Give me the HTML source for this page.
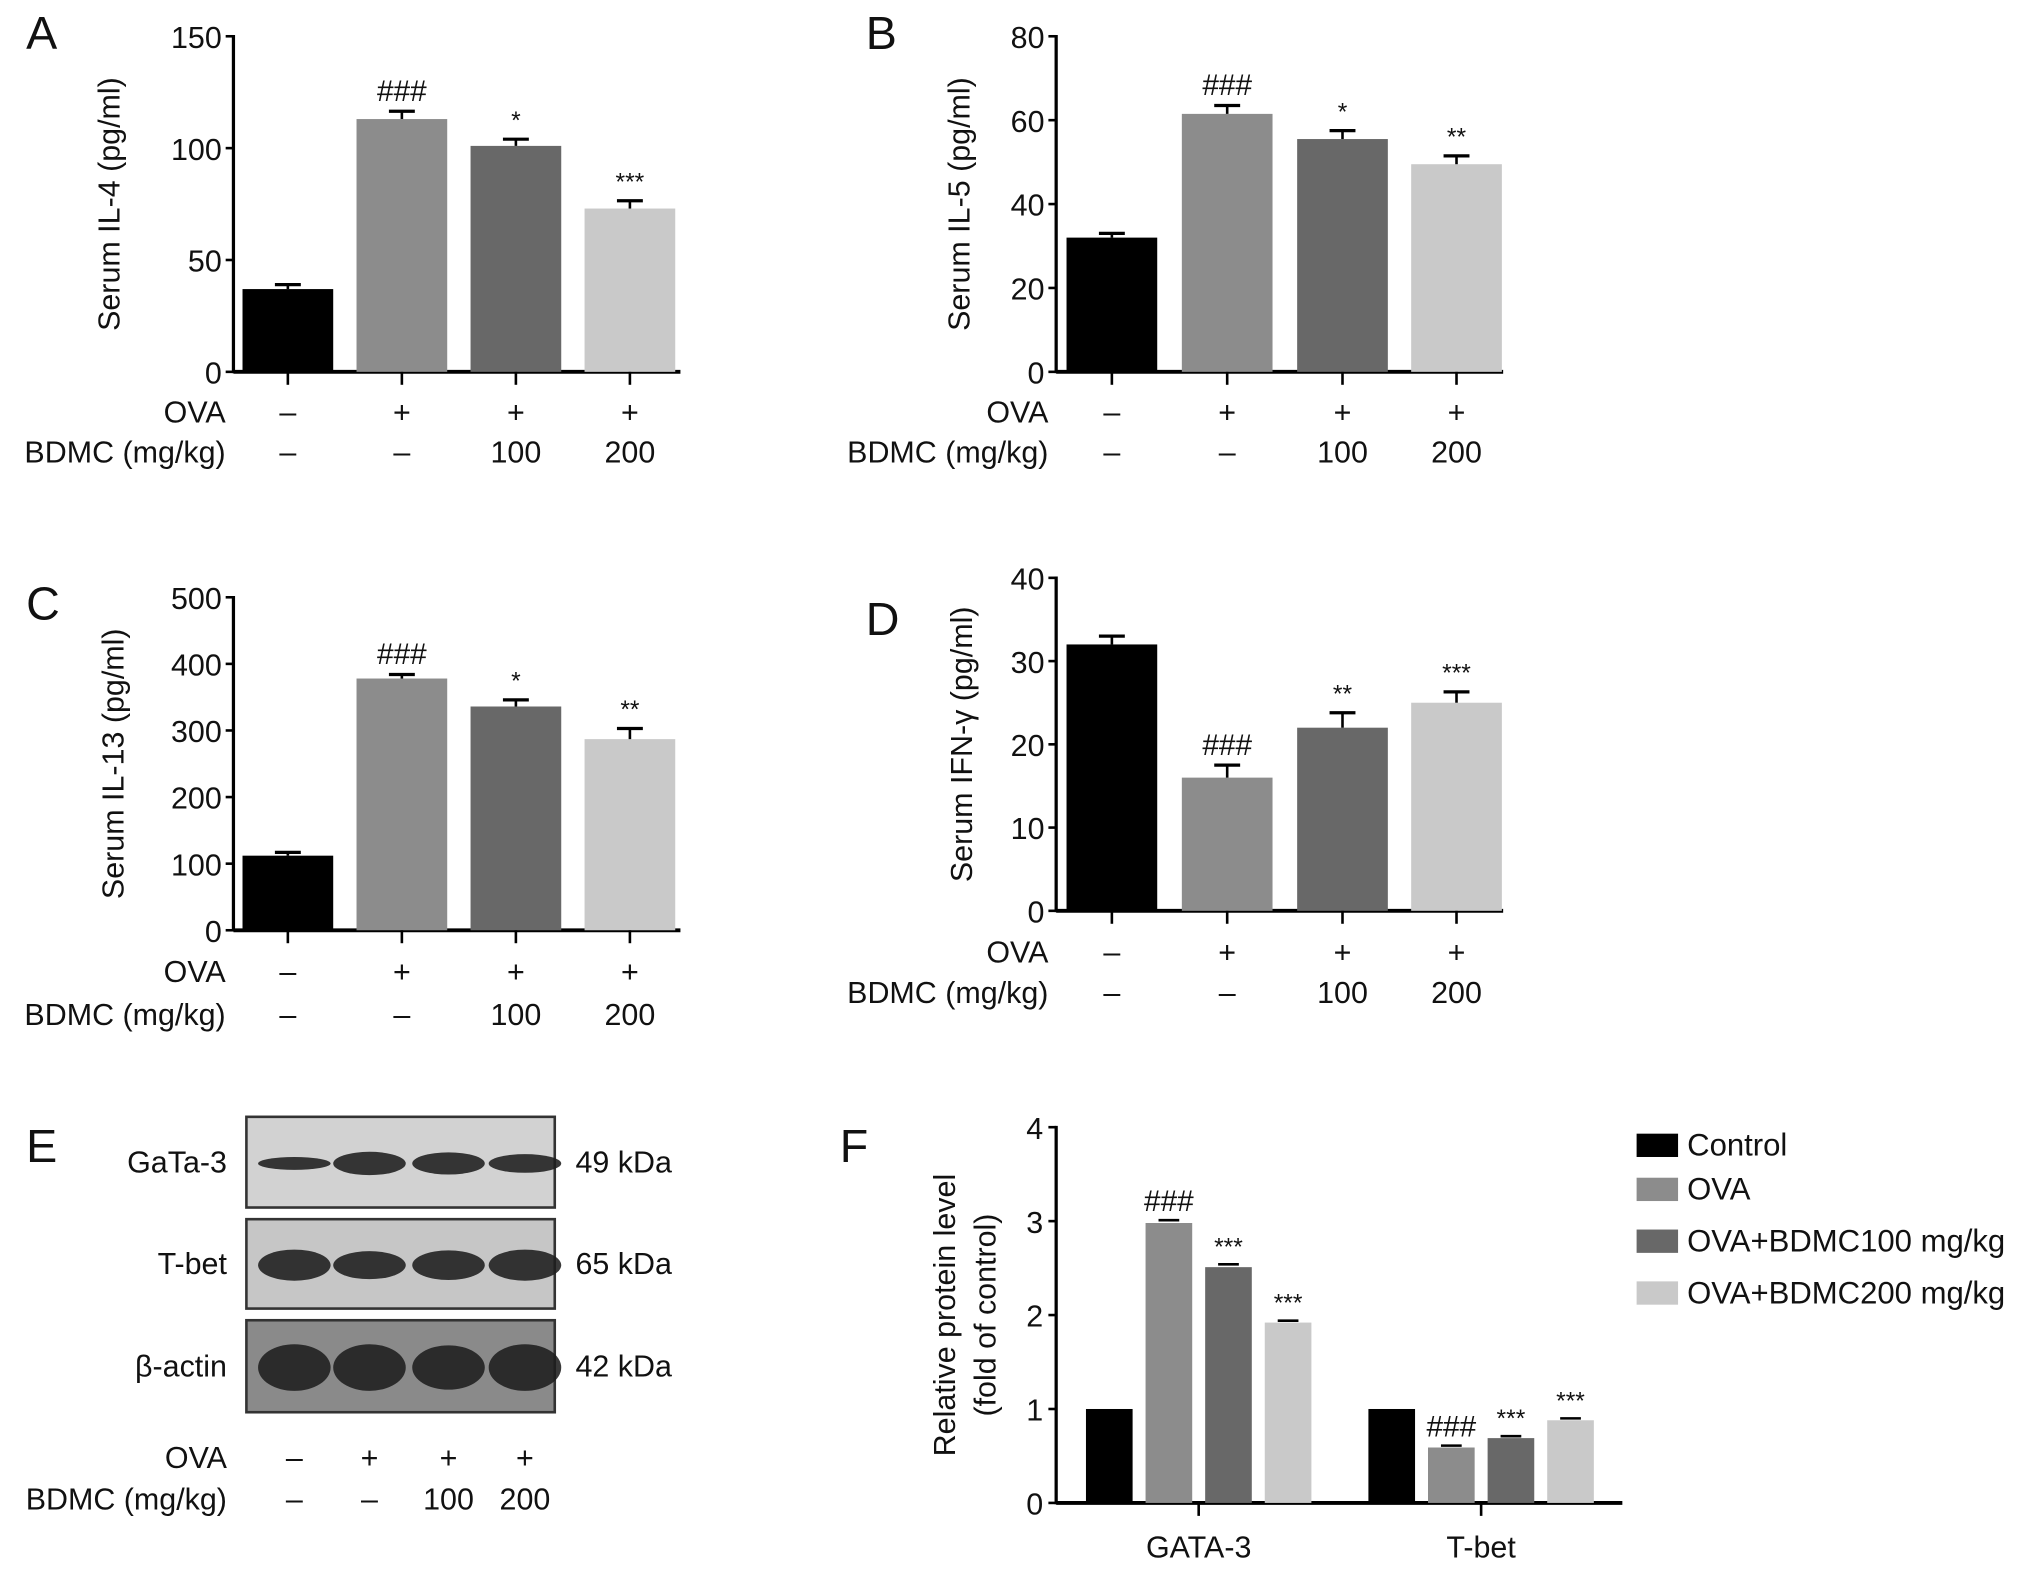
<!DOCTYPE html>
<html><head><meta charset="utf-8">
<style>
html,body{margin:0;padding:0;background:#fff;}
svg{display:block;font-family:"Liberation Sans",Arial,sans-serif;}
</style></head>
<body>
<svg id="fig" width="2032" height="1569" viewBox="0 0 1568 1211" xmlns="http://www.w3.org/2000/svg"></svg>
<script>
// ---- data ----
const groupsRow1 = ["-","+","+","+"];
const groupsRow2 = ["-","-","100","200"];
const colors = ["#000000","#8c8c8c","#686868","#c9c9c9"];

const aValues = [37, 113, 101, 73];
const aErrors = [2, 3.5, 3, 3.5];
const aMarks  = ["", "###", "*", "***"];
const aTicks  = [0, 50, 100, 150];

const bValues = [32, 61.5, 55.5, 49.5];
const bErrors = [1, 2, 2, 2];
const bMarks  = ["", "###", "*", "**"];
const bTicks  = [0, 20, 40, 60, 80];

const cValues = [112, 378, 336, 287];
const cErrors = [5, 6, 10, 16];
const cMarks  = ["", "###", "*", "**"];
const cTicks  = [0, 100, 200, 300, 400, 500];

const dValues = [32, 16, 22, 25];
const dErrors = [1, 1.5, 1.8, 1.3];
const dMarks  = ["", "###", "**", "***"];
const dTicks  = [0, 10, 20, 30, 40];

const fCategories = ["GATA-3", "T-bet"];
const fSeries = ["Control", "OVA", "OVA+BDMC100 mg/kg", "OVA+BDMC200 mg/kg"];
const fGata = [1, 2.98, 2.51, 1.92];
const fTbet = [1, 0.59, 0.69, 0.88];
const fGataErr = [0, 0.03, 0.03, 0.02];
const fTbetErr = [0, 0.02, 0.02, 0.02];
const fGataMarks = ["", "###", "***", "***"];
const fTbetMarks = ["", "###", "***", "***"];
const fTicks = [0, 1, 2, 3, 4];

const NS = "http://www.w3.org/2000/svg";
const svg = document.getElementById("fig");
const FS = 23.5;
function el(tag, attrs, parent) {
  const e = document.createElementNS(NS, tag);
  for (const k in attrs) e.setAttribute(k, attrs[k]);
  (parent || svg).appendChild(e);
  return e;
}
function txt(s, x, y, size, anchor, parent, extra) {
  const t = el("text", Object.assign({x:x, y:y, "font-size":size, "text-anchor":anchor||"middle", fill:"#111"}, extra||{}), parent);
  t.textContent = s;
  return t;
}

function barPanel(o) {
  const g = el("g", {});
  
  
  const yScale = v => o.y0 - (v - o.ticks[0]) / (o.ticks[o.ticks.length-1] - o.ticks[0]) * (o.y0 - o.y1);
  const pl = txt(o.letter, o.lx, o.ly, 36, "start", g);
  
  
  el("line", {x1:o.ax, y1:o.y1-1, x2:o.ax, y2:o.y0+1, stroke:"#000", "stroke-width":2.5}, g);
  el("line", {x1:o.ax, y1:o.y0, x2:o.xend, y2:o.y0, stroke:"#000", "stroke-width":3}, g);
  o.ticks.forEach(t => {
    const y = yScale(t);
    el("line", {x1:o.ax-6, y1:y, x2:o.ax, y2:y, stroke:"#000", "stroke-width":2}, g);
    const tl = txt(String(t), o.ax-9, y+9, FS, "end", g);
    
    
  });
  const yt = txt(o.ytitle, 0, 0, FS, "middle", g, {transform:`translate(${o.tx},${(o.y0+o.y1)/2}) rotate(-90)`});
  
  
  o.values.forEach((v, i) => {
    const cx = o.xs[i];
    const top = yScale(v);
    const b = el("rect", {x:cx-o.bw/2, y:top, width:o.bw, height:o.y0-top, fill:colors[i]}, g);
    
    
    const et = yScale(v + o.errors[i]);
    el("line", {x1:cx, y1:top, x2:cx, y2:et, stroke:"#000", "stroke-width":2}, g);
    el("line", {x1:cx-10, y1:et, x2:cx+10, y2:et, stroke:"#000", "stroke-width":2.5}, g);
    el("line", {x1:cx, y1:o.y0, x2:cx, y2:o.y0+10, stroke:"#000", "stroke-width":2}, g);
    if (o.marks[i]) {
      const m = txt(o.marks[i], cx, et - 8, o.marks[i][0]=="#" ? 23 : 19, "middle", g);
      
      
    }
    const r1 = txt(groupsRow1[i]=="-" ? "–" : "+", cx, o.r1y, FS, "middle", g);
    
    
    const r2 = txt(groupsRow2[i]=="-" ? "–" : groupsRow2[i], cx, o.r2y, FS, "middle", g);
    
    
  });
  const l1 = txt("OVA", o.ax-6, o.r1y, FS, "end", g);
  
  
  const l2 = txt("BDMC (mg/kg)", o.ax-6, o.r2y, FS, "end", g);
  
  
}

const xsL = [222, 310, 398, 486], xsR = [858, 947, 1036, 1124];
barPanel({name:"panel-a", letter:"A", lx:20, ly:38, ax:180, y0:287, y1:28, xend:525, ticks:aTicks, values:aValues, errors:aErrors, marks:aMarks, xs:xsL, bw:70, ytitle:"Serum IL-4 (pg/ml)", tx:92, r1y:326, r2y:357});
barPanel({name:"panel-b", letter:"B", lx:668, ly:38, ax:815, y0:287, y1:28, xend:1160, ticks:bTicks, values:bValues, errors:bErrors, marks:bMarks, xs:xsR, bw:70, ytitle:"Serum IL-5 (pg/ml)", tx:748, r1y:326, r2y:357});
barPanel({name:"panel-c", letter:"C", lx:20, ly:478, ax:180, y0:718, y1:461, xend:525, ticks:cTicks, values:cValues, errors:cErrors, marks:cMarks, xs:xsL, bw:70, ytitle:"Serum IL-13 (pg/ml)", tx:95, r1y:758, r2y:791});
barPanel({name:"panel-d", letter:"D", lx:668, ly:490, ax:815, y0:703, y1:446, xend:1160, ticks:dTicks, values:dValues, errors:dErrors, marks:dMarks, xs:xsR, bw:70, ytitle:"Serum IFN-γ (pg/ml)", tx:750, r1y:743, r2y:774});

// ---- panel E (western blot) ----
(function(){
  const g = el("g", {});
  
  
  const pl = txt("E", 20, 897, 36, "start", g);
  
  
  const rows = [["GaTa-3","49 kDa",862,932,[0.55,1.0,0.95,0.8],"#d2d2d2",9],["T-bet","65 kDa",941,1010,[1,0.9,0.95,1],"#c6c6c6",12],["β-actin","42 kDa",1019,1090,[1,1,0.95,1],"#8a8a8a",18]];
  const lanes = [227, 285, 346, 405];
  rows.forEach(r => {
    const box = el("rect", {x:190, y:r[2], width:238, height:r[3]-r[2], fill:r[5], stroke:"#333", "stroke-width":2}, g);
    
    
    const cy = (r[2]+r[3])/2;
    lanes.forEach((x,i) => {
      el("ellipse", {cx:x, cy:cy+1, rx:28, ry:r[6]*r[4][i], fill:"#1e1e1e", opacity:0.88}, g);
    });
    const l = txt(r[0], 175, cy+8, FS, "end", g);
    
    
    const k = txt(r[1], 444, cy+8, FS, "start", g);
    
    
  });
  lanes.forEach((x,i) => {
    txt(groupsRow1[i]=="-" ? "–" : "+", x, 1133, FS, "middle", g);
    txt(groupsRow2[i]=="-" ? "–" : groupsRow2[i], x, 1165, FS, "middle", g);
  });
  txt("OVA", 175, 1133, FS, "end", g);
  txt("BDMC (mg/kg)", 175, 1165, FS, "end", g);
})();

// ---- panel F ----
(function(){
  const g = el("g", {});
  
  
  const ax = 815, y0 = 1160, y1 = 870;
  const yScale = v => y0 - (v - fTicks[0]) / (fTicks[fTicks.length-1] - fTicks[0]) * (y0 - y1);
  const pl = txt("F", 648, 897, 36, "start", g);
  
  
  el("line", {x1:ax, y1:y1-1, x2:ax, y2:y0+1, stroke:"#000", "stroke-width":2.5}, g);
  el("line", {x1:ax, y1:y0, x2:1252, y2:y0, stroke:"#000", "stroke-width":3}, g);
  fTicks.forEach(t => {
    const y = yScale(t);
    el("line", {x1:ax-6, y1:y, x2:ax, y2:y, stroke:"#000", "stroke-width":2}, g);
    txt(String(t), ax-10, y+9, FS, "end", g);
  });
  const t1 = txt("Relative protein level", 0, 0, FS, "middle", g, {transform:`translate(737,1015) rotate(-90)`});
  
  
  txt("(fold of control)", 0, 0, FS, "middle", g, {transform:`translate(768,1015) rotate(-90)`});
  const groupCenters = [925, 1143];
  const offs = [-69, -23, 23, 69];
  const data = [fGata, fTbet], errs = [fGataErr, fTbetErr], marks = [fGataMarks, fTbetMarks];
  fCategories.forEach((c, gi) => {
    const gc = groupCenters[gi];
    el("line", {x1:gc, y1:y0, x2:gc, y2:y0+10, stroke:"#000", "stroke-width":2}, g);
    const cl = txt(c, gc, 1202, FS, "middle", g);
    
    
    data[gi].forEach((v, i) => {
      const cx = gc + offs[i], top = yScale(v);
      const b = el("rect", {x:cx-18, y:top, width:36, height:y0-top, fill:colors[i]}, g);
      
      
      const et = yScale(v + errs[gi][i]);
      if (errs[gi][i] > 0) el("line", {x1:cx-8, y1:et, x2:cx+8, y2:et, stroke:"#000", "stroke-width":2}, g);
      if (marks[gi][i]) {
        const m = txt(marks[gi][i], cx, et - 7, marks[gi][i][0]=="#" ? 23 : 19, "middle", g);
        
        
      }
    });
  });
  const ly = [884, 918, 958, 998];
  fSeries.forEach((s, i) => {
    const sw = el("rect", {x:1263, y:ly[i]-9, width:32, height:18, fill:colors[i]}, g);
    
    
    const t = txt(s, 1302, ly[i]+8, 24, "start", g);
    
    
  });
})();
</script>
</body></html>
